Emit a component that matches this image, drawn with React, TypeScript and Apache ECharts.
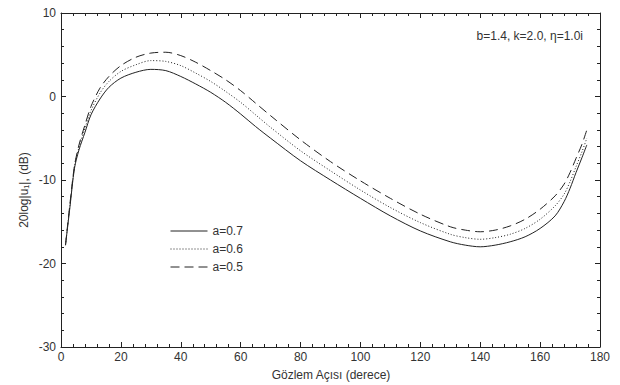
import React, { useEffect, useRef } from "react";
import * as echarts from "echarts";

const xTicks = [0, 20, 40, 60, 80, 100, 120, 140, 160, 180];
const angles = [1.5, 3, 4.5, 6, 8, 10, 13, 16, 20, 25, 30, 35, 40, 45, 50, 55, 60, 65, 70, 80, 90, 100, 110, 120, 130, 135, 140, 145, 150, 155, 160, 165, 168, 170, 172, 174, 175.6];
const a07 = [-17.8, -13.2, -8.6, -6.4, -4.3, -2.2, -0.3, 1.1, 2.2, 2.9, 3.25, 3.1, 2.4, 1.5, 0.5, -0.7, -2.1, -3.6, -5.0, -7.7, -10.0, -12.2, -14.3, -16.1, -17.4, -17.8, -18.0, -17.8, -17.4, -16.8, -15.8, -14.3, -12.6, -11.0, -9.1, -7.3, -5.8];
const a06 = [-17.8, -13.0, -8.4, -6.1, -3.8, -1.7, 0.4, 1.8, 3.0, 3.8, 4.3, 4.2, 3.7, 2.8, 1.8, 0.6, -0.7, -2.2, -3.7, -6.5, -8.9, -11.2, -13.3, -15.1, -16.5, -16.9, -17.1, -16.9, -16.5, -15.8, -14.7, -13.1, -11.7, -10.2, -8.4, -6.6, -5.0];
const a05 = [-17.8, -12.8, -8.3, -5.8, -3.4, -1.2, 1.0, 2.4, 3.7, 4.7, 5.2, 5.3, 4.9, 4.1, 3.1, 2.0, 0.7, -0.8, -2.3, -5.2, -7.8, -10.1, -12.2, -14.1, -15.6, -16.0, -16.2, -16.0, -15.5, -14.7, -13.5, -11.9, -10.5, -9.1, -7.4, -5.7, -4.0];
const seriesNames = ["a=0.7", "a=0.6", "a=0.5"];
const annotation = "b=1.4, k=2.0, \u03b7=1.0i";
const xName = "Gözlem Açısı (derece)";
const yName = "20log|u\u2081|, (dB)";

const FONT = "'Liberation Sans', Arial, sans-serif";
const TXT = "#333";

function pairs(ys: number[]) {
  return angles.map((x, i) => [x, ys[i]]);
}

export default function App() {
  const ref = useRef<HTMLDivElement>(null);
  useEffect(() => {
    if (!ref.current) return;
    const chart = echarts.init(ref.current, undefined, { renderer: "svg" });
    const axisCommon = {
      axisLine: { show: true, onZero: false, lineStyle: { color: "#222", width: 1 } },
      axisTick: { show: true, inside: true, length: 5, lineStyle: { color: "#222" } },
      minorTick: { show: true, splitNumber: 5, length: 3, lineStyle: { color: "#222" } },
      splitLine: { show: false },
      minorSplitLine: { show: false },
    };
    const lineTypes: any[] = ["solid", [1, 2], [9, 5]];
    chart.setOption({
      animation: false,
      backgroundColor: "#fff",
      grid: { left: 61, right: 20, top: 13, bottom: 38, containLabel: false },
      legend: {
        data: seriesNames,
        orient: "vertical",
        left: 165,
        top: 220,
        itemWidth: 37,
        itemHeight: 14,
        itemGap: 6,
        itemStyle: { opacity: 0, borderWidth: 0 },
        lineStyle: { width: 1 },
        textStyle: { fontSize: 12, color: TXT, fontFamily: FONT },
      },
      xAxis: [
        {
          type: "value",
          min: 0,
          max: 180,
          interval: 20,
          position: "bottom",
          ...axisCommon,
          axisLabel: { fontSize: 12, color: TXT, fontFamily: FONT, margin: 4 },
        },
        {
          type: "value",
          min: 0,
          max: 180,
          interval: 20,
          position: "top",
          ...axisCommon,
          axisLabel: { show: false },
        },
      ],
      yAxis: [
        {
          type: "value",
          min: -30,
          max: 10,
          interval: 10,
          position: "left",
          ...axisCommon,
          axisLabel: { fontSize: 12, color: TXT, fontFamily: FONT, margin: 5 },
        },
        {
          type: "value",
          min: -30,
          max: 10,
          interval: 10,
          position: "right",
          ...axisCommon,
          axisLabel: { show: false },
        },
      ],
      graphic: [
        {
          type: "text",
          x: 583,
          y: 36,
          style: {
            text: annotation,
            fontSize: 12,
            fill: TXT,
            fontFamily: FONT,
            textAlign: "right",
            textVerticalAlign: "middle",
          },
        },
        {
          type: "text",
          x: 331,
          y: 375,
          style: {
            text: xName,
            fontSize: 12,
            fill: TXT,
            fontFamily: FONT,
            textAlign: "center",
            textVerticalAlign: "middle",
          },
        },
        {
          type: "text",
          x: 24,
          y: 190,
          rotation: Math.PI / 2,
          style: {
            text: yName,
            fontSize: 12,
            fill: TXT,
            fontFamily: FONT,
            textAlign: "center",
            textVerticalAlign: "middle",
          },
        },
      ],
      series: [a07, a06, a05].map((d, i) => ({
        name: seriesNames[i],
        type: "line",
        data: pairs(d),
        xAxisIndex: 0,
        yAxisIndex: 0,
        symbol: "none",
        smooth: 0.3,
        clip: true,
        lineStyle: { color: "#222", width: 1, type: lineTypes[i] },
        itemStyle: { color: "#222" },
      })),
    });
    return () => chart.dispose();
  }, []);
  return (
    <div
      ref={ref}
      style={{ position: "fixed", left: 0, top: 0, width: 620, height: 385 }}
    />
  );
}
